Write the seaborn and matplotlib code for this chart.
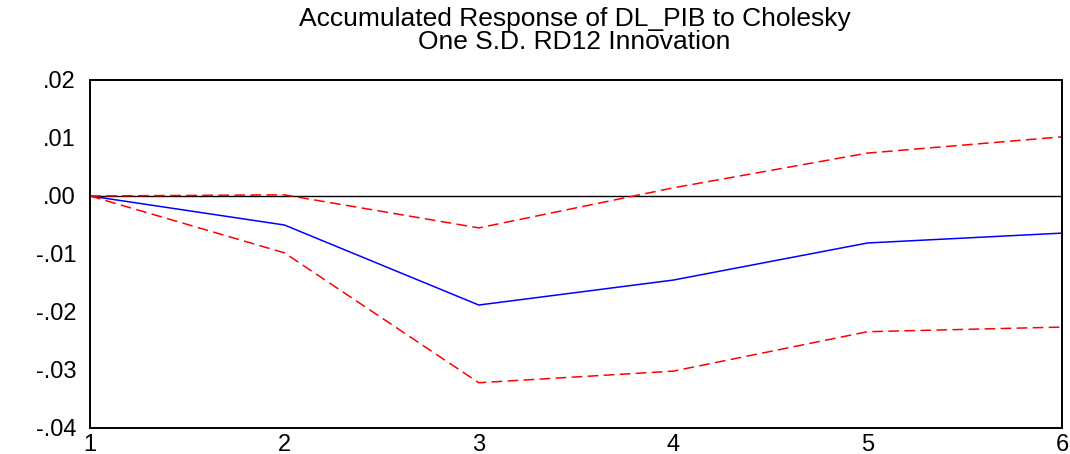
import pandas as pd
import matplotlib.pyplot as plt
import matplotlib.ticker as mticker
import seaborn as sns

# periods and accumulated responses
periods = [1, 2, 3, 4, 5, 6]
response = [0.0, -0.0050, -0.0188, -0.0145, -0.0081, -0.0064]
upper_band = [0.0, 0.0002, -0.0055, 0.0014, 0.0074, 0.0102]
lower_band = [0.0, -0.0098, -0.0322, -0.0302, -0.0234, -0.0226]
y_ticks = [-0.04, -0.03, -0.02, -0.01, 0.00, 0.01, 0.02]

df = pd.DataFrame({
    'period': periods * 3,
    'value': response + upper_band + lower_band,
    'serie': ['resp'] * 6 + ['up'] * 6 + ['low'] * 6,
})

sns.set_style('white')
plt.rcParams['font.family'] = ['Liberation Sans', 'DejaVu Sans']
plt.rcParams['text.color'] = 'black'
plt.rcParams['xtick.color'] = 'black'
plt.rcParams['ytick.color'] = 'black'

fig = plt.figure(figsize=(10.70, 4.54), dpi=100)
ax = fig.add_axes([0.0841, 0.0573, 0.9084, 0.7665])

ax.axhline(0, color='black', lw=1.0, zorder=1)
sns.lineplot(data=df, x='period', y='value', hue='serie', style='serie',
             palette={'resp': '#0000ff', 'up': '#ff0000', 'low': '#ff0000'},
             dashes={'resp': '', 'up': (7, 3.5), 'low': (7, 3.5)},
             lw=1.1, legend=False, ax=ax, zorder=2)

ax.set_xlim(1, 6)
ax.set_ylim(-0.04, 0.02)
ax.set_xticks(periods)
ax.set_yticks(y_ticks)

def fmt(v, pos):
    s = f'{v:.2f}'
    return s.replace('0.', '.', 1)

ax.yaxis.set_major_formatter(mticker.FuncFormatter(fmt))
ax.tick_params(axis='y', direction='out', length=6, width=1, labelsize=17, pad=4)
ax.tick_params(axis='x', direction='out', length=4, width=1, labelsize=17, pad=0)
ax.set_xlabel('')
ax.set_ylabel('')
for sp in ax.spines.values():
    sp.set_color('black')
    sp.set_linewidth(1.4)

fig.text(0.537, 0.985, 'Accumulated Response of DL_PIB to Cholesky\nOne S.D. RD12 Innovation',
         ha='center', va='top', fontsize=19, linespacing=0.95)

fig.savefig('out.png', dpi=100)
